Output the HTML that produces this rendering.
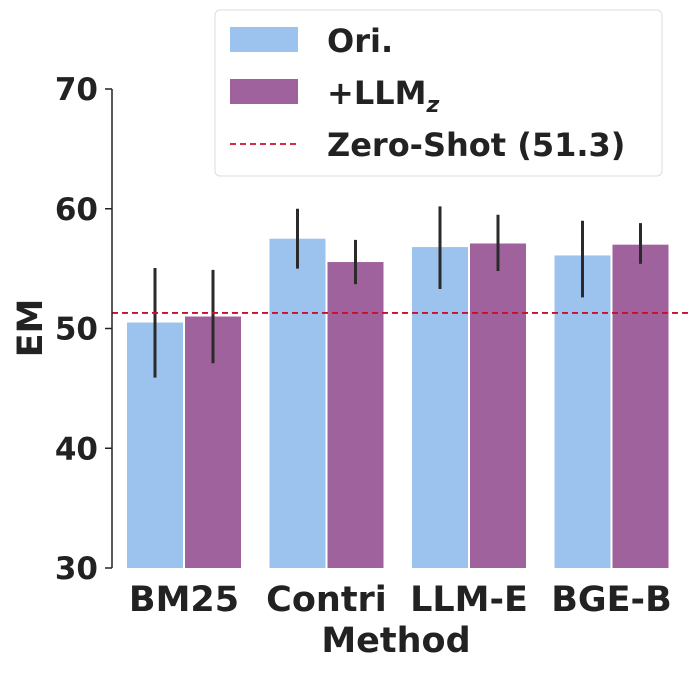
<!DOCTYPE html>
<html><head><meta charset="utf-8"><style>
body{margin:0;background:#fff}
svg text{font-family:"DejaVu Sans","Liberation Sans",sans-serif;font-weight:bold;fill:#222}
</style></head><body>
<svg id="chart" width="690" height="671" xmlns="http://www.w3.org/2000/svg">
<g id="bars"></g>
<g id="axes"></g>
</svg>
<script>
const categories=["BM25","Contri","LLM-E","BGE-B"];
const oriValues=[50.5,57.5,56.8,56.1];
const oriLow=[45.9,55.0,53.3,52.6];
const oriHigh=[55.05,60.0,60.2,59.0];
const llmValues=[51.0,55.55,57.1,57.0];
const llmLow=[47.1,53.7,54.8,55.4];
const llmHigh=[54.9,57.4,59.5,58.8];
const yTicks=[30,40,50,60,70];
const zeroShot=51.3;

const NS="http://www.w3.org/2000/svg";
const svg=document.getElementById('chart');
const bars=document.getElementById('bars');
const axes=document.getElementById('axes');
const y=v=>568-(v-30)*(479/40);
const groupX=i=>127+i*142.5;
function mk(tag,attrs,parent){const e=document.createElementNS(NS,tag);for(const k in attrs)e.setAttribute(k,attrs[k]);parent.appendChild(e);return e;}

categories.forEach((c,i)=>{
  const gx=groupX(i);
  [[oriValues,oriLow,oriHigh,'#9cc3ee',0,'ori'],[llmValues,llmLow,llmHigh,'#a0629c',58,'llm']].forEach(([vals,lo,hi,col,off,nm])=>{
    const r=mk('rect',{x:gx+off,y:y(vals[i]),width:56,height:568-y(vals[i]),fill:col},bars);
    
    
    const l=mk('line',{x1:gx+off+28,x2:gx+off+28,y1:y(hi[i]),y2:y(lo[i]),stroke:'#2a2a2a','stroke-width':3},bars);
    
    
  });
  const t=mk('text',{x:gx+57,y:611,'font-size':35,'text-anchor':'middle'},axes);
  t.textContent=c;
  
  
});
const zl=mk('line',{x1:112,x2:690,y1:y(zeroShot),y2:y(zeroShot),stroke:'#c8102e','stroke-width':1.8,'stroke-dasharray':'6,4'},bars);


const sp=mk('line',{x1:112,x2:112,y1:89,y2:568,stroke:'#222','stroke-width':1.5},axes);


yTicks.forEach(v=>{
  const tk=mk('line',{x1:105,x2:112,y1:y(v),y2:y(v),stroke:'#222','stroke-width':1.5},axes);
  
  
  const t=mk('text',{x:98,y:y(v)+11,'font-size':31,'text-anchor':'end'},axes);
  t.textContent=v;
  
  
});
const yt=mk('text',{x:0,y:0,'font-size':35,'text-anchor':'middle',transform:'translate(42,328) rotate(-90)'},axes);
yt.textContent='EM';


const xt=mk('text',{x:396,y:652,'font-size':35,'text-anchor':'middle'},axes);
xt.textContent='Method';



const lg=mk('g',{},svg);


mk('rect',{x:215,y:10,width:447,height:166,rx:5,fill:'#fff','fill-opacity':0.9,stroke:'#ddd'},lg);
mk('rect',{x:230,y:27,width:68,height:25,fill:'#9cc3ee'},lg);
mk('rect',{x:230,y:79,width:68,height:25,fill:'#a0629c'},lg);
mk('line',{x1:230,x2:298,y1:144,y2:144,stroke:'#c8102e','stroke-width':1.8,'stroke-dasharray':'6,4'},lg);
const l1=mk('text',{x:327,y:52,'font-size':32},lg);l1.textContent='Ori.';


const l2=mk('text',{x:327,y:104,'font-size':32},lg);l2.innerHTML='+LLM<tspan font-size="22" font-style="italic" dy="8">z</tspan>';


const l3=mk('text',{x:327,y:156,'font-size':32},lg);l3.textContent='Zero-Shot (51.3)';


</script>
</body></html>
